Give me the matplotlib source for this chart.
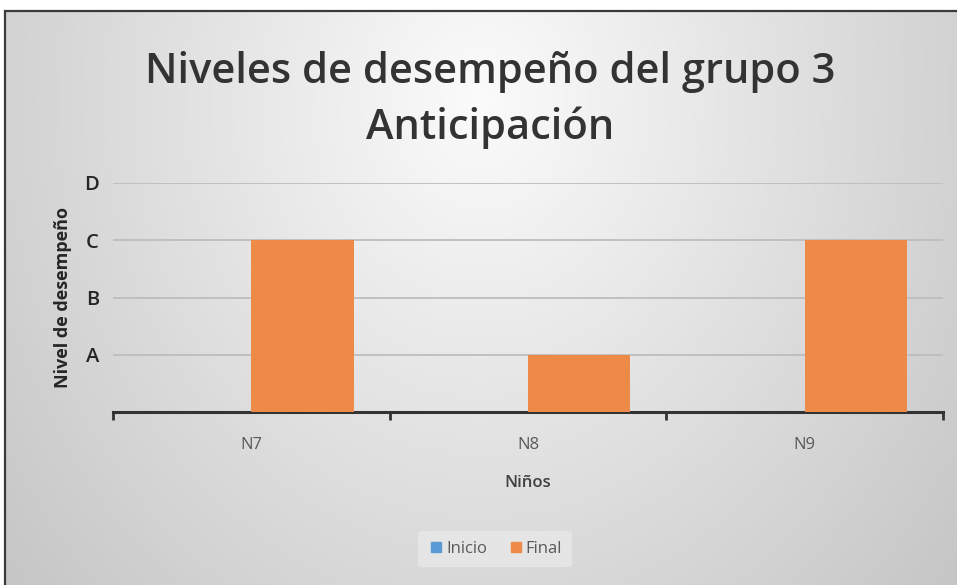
import matplotlib
matplotlib.use("Agg")
import matplotlib.pyplot as plt
import numpy as np
from matplotlib.patches import Rectangle
from matplotlib.lines import Line2D

# --- DATOS ---
ninos = ["N7", "N8", "N9"]
inicio = [0, 0, 0]
final = [3, 1, 3]
niveles = ["A", "B", "C", "D"]
niveles_val = [1, 2, 3, 4]

plt.rcParams['font.family'] = ['Open Sans', 'DejaVu Sans']

W, H = 957, 585
fig = plt.figure(figsize=(W / 100, H / 100), dpi=100)
fig.patch.set_facecolor("white")

# fondo degradado radial (estilo Excel)
bg = fig.add_axes([5 / W, 0, 1 - 5 / W, 1 - 11 / H], zorder=-10)
gx, gy = np.meshgrid(np.linspace(0, 1, 400), np.linspace(0, 1, 300))
r = np.sqrt(((gx - 0.5) / 0.75) ** 2 + ((gy - 0.15) / 1.5) ** 2)
shade = np.clip(0.985 - 0.24 * r, 0.78, 0.985)
bg.imshow(np.dstack([shade] * 3), aspect="auto", extent=[0, 1, 1, 0])
bg.set_axis_off()
fig.patches.append(Rectangle((5 / W, -0.01), 1.1, 1 - 11 / H + 0.01,
                             transform=fig.transFigure, fill=False,
                             edgecolor="#3a3a3a", linewidth=1.6, zorder=5))

ax = fig.add_axes([113 / W, 1 - 412 / H, (943 - 113) / W, (412 - 183) / H])
ax.patch.set_alpha(0)

x = np.arange(len(ninos))
w = 0.37
ax.bar(x - w / 2, inicio, w, color="#5B9BD5", label="Inicio", zorder=3)
ax.bar(x + w / 2, final, w, color="#EE8A47", label="Final", zorder=3)

ax.set_xlim(-0.5, len(ninos) - 0.5)
ax.set_ylim(0, 4)
ax.set_yticks(niveles_val)
ax.set_yticklabels(niveles, fontsize=14.5, fontweight="semibold", color="#262626")
ax.yaxis.grid(True, color="#bdbdbd", linewidth=1.3, zorder=0)
ax.tick_params(axis="y", length=0, pad=10)

ax.set_xticks(x)
ax.set_xticklabels(ninos, fontsize=12, color="#595959")
ax.set_xticks(np.arange(-0.5, len(ninos)), minor=True)
ax.tick_params(axis="x", which="major", length=0, pad=18)
ax.tick_params(axis="x", which="minor", length=6, width=2, color="#333333", direction="out")

for s in ["top", "right", "left"]:
    ax.spines[s].set_visible(False)
ax.spines["bottom"].set_color("#333333")
ax.spines["bottom"].set_linewidth(2.2)

ax.set_xlabel("Niños", fontsize=12, fontweight="semibold", color="#404040", labelpad=16)
ax.set_ylabel("Nivel de desempeño", fontsize=13, fontweight="bold", color="#262626", labelpad=9)

fig.text(490 / W, 1 - 72 / H, "Niveles de desempeño del grupo 3", ha="center", va="center",
         fontsize=30, fontweight="semibold", color="#333333")
fig.text(490 / W, 1 - 128 / H, "Anticipación", ha="center", va="center",
         fontsize=30, fontweight="semibold", color="#333333")

handles = [Line2D([], [], marker="s", linestyle="", markersize=7, color="#5B9BD5"),
           Line2D([], [], marker="s", linestyle="", markersize=7, color="#EE8A47")]
leg = fig.legend(handles, ["Inicio", "Final"], loc="center", bbox_to_anchor=(495 / W, 1 - 549 / H),
                 ncol=2, frameon=True, fontsize=12, handletextpad=0.1, columnspacing=1.2,
                 handlelength=1.0, borderpad=0.6)
leg.get_frame().set_facecolor("#e8e8e8")
leg.get_frame().set_edgecolor("none")
leg.get_frame().set_alpha(0.8)
for t in leg.get_texts():
    t.set_color("#595959")

fig.savefig("out.png", dpi=100)
